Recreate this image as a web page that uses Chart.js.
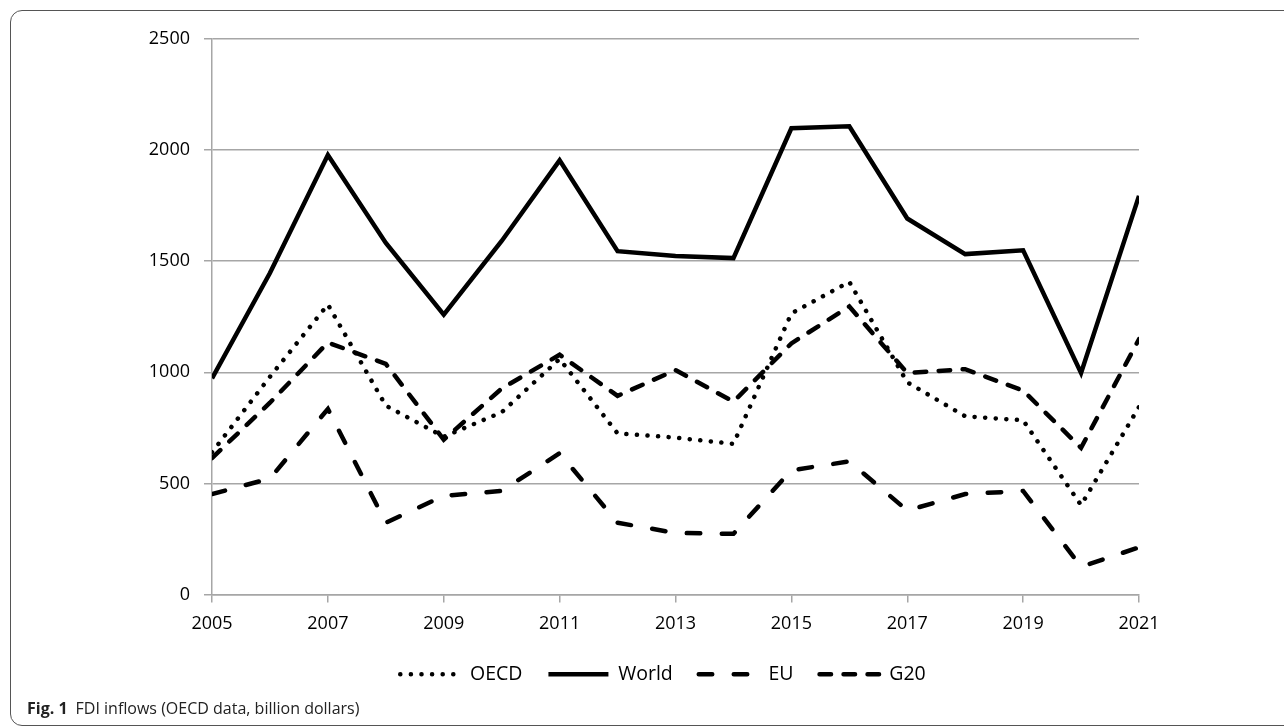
<!DOCTYPE html>
<html>
<head>
<meta charset="utf-8">
<script src="https://cdn.jsdelivr.net/npm/chart.js@4"></script>
<style>
  body { margin: 0; background: #fff; }
  #wrap { position: relative; width: 1284px; height: 728px; overflow: hidden; }
  #frame { position: absolute; left: 10px; top: 10px; width: 1310px; height: 714px;
           border: 1.5px solid #555; border-radius: 12px; }
  #chart { position: absolute; left: 0; top: 0; }
  #caption { position: absolute; left: 27px; top: 697px; font-family: "Liberation Sans Narrow", "Open Sans", sans-serif;
             font-size: 16px; color: #222; white-space: nowrap; }
  #caption b { margin-right: 8px; }
</style>
</head>
<body>
<div id="wrap">
  <div id="frame"></div>
  <canvas id="chart" width="1284" height="728"></canvas>
  <div id="caption"><b>Fig. 1</b>FDI inflows (OECD data, billion dollars)</div>
</div>
<script>
// FDI inflows, billion dollars
const years = [2005, 2006, 2007, 2008, 2009, 2010, 2011, 2012, 2013, 2014, 2015, 2016, 2017, 2018, 2019, 2020, 2021]
const oecd  = [640, 980, 1305, 850, 710, 820, 1060, 725, 706, 678, 1265, 1407, 955, 802, 784, 402, 844]
const world = [973, 1447, 1978, 1582, 1259, 1591, 1954, 1545, 1523, 1514, 2098, 2107, 1692, 1532, 1549, 997, 1794]
const eu    = [452, 522, 835, 323, 444, 466, 636, 323, 277, 273, 559, 599, 378, 452, 466, 125, 212]
const g20   = [614, 863, 1134, 1038, 697, 927, 1079, 894, 1010, 868, 1130, 1296, 997, 1014, 918, 660, 1149]
const yTicks = [0, 500, 1000, 1500, 2000, 2500]

const pts = arr => arr.map((v, i) => ({ x: years[i], y: v }))

const line = (label, data, dash) => ({
  label,
  data: pts(data),
  borderColor: '#000',
  backgroundColor: '#000',
  borderWidth: 4.5,
  borderDash: dash,
  borderCapStyle: dash.length ? 'round' : 'butt',
  borderJoinStyle: 'miter',
  pointRadius: 0,
  tension: 0,
  fill: false
})

Chart.defaults.font.family = '"Open Sans", sans-serif'
Chart.defaults.font.size = 18
Chart.defaults.color = '#000'

// legend items take their dash from the dataset line, not from the point
const legendLabels = chart => {
  const items = Chart.defaults.plugins.legend.labels.generateLabels(chart)
  items.forEach(it => {
    const ds = chart.data.datasets[it.datasetIndex]
    it.lineDash = ds.borderDash
    it.lineCap = ds.borderCapStyle
    it.lineWidth = ds.borderWidth
    it.strokeStyle = ds.borderColor
  })
  return items
}

// the legend is centred a bit right of the canvas middle, like the original
const legendShift = {
  id: 'legendShift',
  afterLayout(chart) {
    if (chart.legend) chart.legend.left = 187
  }
}

new Chart(document.getElementById('chart'), {
  type: 'line',
  data: {
    datasets: [
      line('OECD', oecd, [0.1, 10.5]),
      line('World', world, []),
      line('EU', eu, [13.5, 21.5]),
      line('G20', g20, [11.5, 12.5])
    ]
  },
  plugins: [legendShift],
  options: {
    responsive: false,
    animation: false,
    layout: { padding: { top: 39, right: 145, bottom: 34, left: 0 } },
    plugins: {
      tooltip: { enabled: false },
      legend: {
        position: 'bottom',
        labels: {
          usePointStyle: true,
          pointStyle: 'line',
          pointStyleWidth: 60,
          padding: 26,
          font: { size: 19.5 },
          generateLabels: legendLabels
        }
      }
    },
    scales: {
      x: {
        type: 'linear',
        min: years[0],
        max: years[years.length - 1],
        afterFit: s => { s.height = 44 },
        grid: { drawOnChartArea: false, color: '#a6a6a6', lineWidth: 1.5, tickLength: 8 },
        border: { color: '#a6a6a6', width: 1.5 },
        ticks: { stepSize: 2, padding: 11, maxRotation: 0, callback: v => String(v) }
      },
      y: {
        min: 0,
        max: 2500,
        afterFit: s => { s.width = 212 },
        afterBuildTicks: s => { s.ticks = yTicks.map(v => ({ value: v })) },
        grid: { color: '#a6a6a6', lineWidth: 1.5, tickLength: 8 },
        border: { color: '#a6a6a6', width: 1.5 },
        ticks: { padding: 14, callback: v => String(v) }
      }
    }
  }
})
</script>
</body>
</html>
